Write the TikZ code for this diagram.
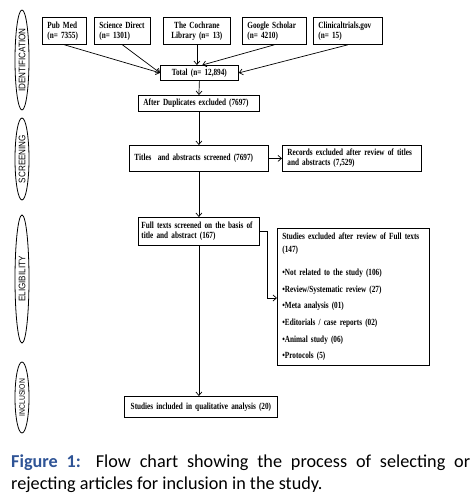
\documentclass[tikz,border=0pt]{standalone}
\usepackage{fontspec}
\setmainfont{Liberation Serif}
\newfontfamily\boxfont[FakeStretch=0.77]{Liberation Serif}
\newfontfamily\stagefont[FakeStretch=0.85]{Liberation Sans}
\newfontfamily\capfont{Carlito}
\usetikzlibrary{shapes,arrows.meta,positioning}
\usepackage{xcolor}
\definecolor{figblue}{RGB}{47,84,150}

\tikzset{
  box/.style={draw, line width=0.8pt, rectangle, anchor=north west,
    inner xsep=5pt, inner ysep=2pt,
    font=\boxfont\fontsize{9.4}{10}\selectfont\bfseries},
  stage/.style={draw, ellipse, line width=0.8pt, inner sep=0pt, rotate=90,
    font=\stagefont\fontsize{9.5}{10}\selectfont},
  flow/.style={-{Straight Barb[length=3.5pt,width=6pt]}, line width=0.7pt}
}

\begin{document}
\begin{tikzpicture}[x=1pt,y=-1pt]
  \useasboundingbox (0,0) rectangle (473,497);

  % stages on the left
  \def\stageX{22}
  \node[stage, minimum width=100, minimum height=14] (ident) at (\stageX,60) {IDENTIFICATION};
  \node[stage, minimum width=82, minimum height=14] (screen) at (\stageX,159) {SCREENING};
  \node[stage, minimum width=128, minimum height=14] (elig) at (\stageX,279) {ELIGIBILITY};
  \node[stage, minimum width=71, minimum height=14,
    font=\stagefont\fontsize{8}{9}\selectfont] (incl) at (\stageX,397.5) {INCLUSION};

  % sources
  \def\srcY{17}
  \node[box, text width=34, minimum height=27, align=left] (pubmed) at (42,\srcY) {Pub Med\\(n= 7355)};
  \node[box, text width=46, minimum height=27, align=left] (scidirect) at (94,\srcY) {Science Direct\\(n= 1301)};
  \node[box, text width=57, minimum height=27, align=center] (cochrane) at (163,\srcY) {The Cochrane\\Library (n= 13)};
  \node[box, text width=54, minimum height=27, align=left] (gscholar) at (242,\srcY) {Google Scholar\\(n= 4210)};
  \node[box, text width=59, minimum height=27, align=left] (ctrials) at (313,\srcY) {Clinicaltrials.gov\\(n= 15)};

  % main flow
  \node[box, text width=68, minimum height=15, align=center] (total) at (160,65) {Total (n= 12,894)};
  \node[box, text width=111, minimum height=16, align=left] (dups) at (138,95) {After Duplicates excluded (7697)};
  \node[box, text width=129, minimum height=26, align=left] (titles) at (129,145) {Titles~ and abstracts screened (7697)};
  \node[box, text width=129, minimum height=26, align=left] (records) at (282,145) {Records excluded after review of titles\\and abstracts (7,529)};
  \node[box, inner xsep=3pt, text width=115, minimum height=28, align=left] (fulltexts) at (138,217) {Full texts screened on the basis of\\title and abstract (167)};
  \node[box, text width=142, minimum height=137, align=left,
    font=\boxfont\fontsize{9.4}{16.7}\selectfont\bfseries] (excluded) at (277,228)
    {Studies excluded after review of Full texts\\[-3.7pt](147)\\[6pt]
     \textbullet Not related to the study (106)\\
     \textbullet Review/Systematic review (27)\\
     \textbullet Meta analysis (01)\\
     \textbullet Editorials / case reports (02)\\
     \textbullet Animal study (06)\\
     \textbullet Protocols (5)};
  \node[box, text width=143, minimum height=21, align=center] (included) at (124,396) {Studies included in qualitative analysis (20)};

  % connectors
  \draw[flow] (pubmed.south) -- (total.west);
  \draw[flow] (scidirect.south) -- (total.west);
  \draw[flow] (cochrane.south) -- (cochrane.south |- total.north);
  \draw[flow] (gscholar.south) -- ([xshift=3pt]total.north);
  \draw[flow] (ctrials.south) -- (total.east);
  \draw[flow] (total.south) -- (dups.north);
  \draw[flow] (dups.south) -- (titles.north);
  \draw[flow] (titles.east) -- (records.west);
  \draw[flow] (titles.south) -- (fulltexts.north);
  \draw[flow] ([yshift=-14pt]fulltexts.north east) -- ++(8,0) |- ([yshift=-70pt]excluded.north west);
  \draw[flow] (fulltexts.south) -- (fulltexts.south |- included.north);

  % caption
  \node[anchor=north west, text width=459pt, align=justify, inner sep=0pt,
    font=\capfont\fontsize{18.2}{22}\selectfont] (caption) at (11,455)
    {\noindent\textcolor{figblue}{\bfseries Figure 1:} Flow chart showing the process of selecting or\linebreak rejecting articles for inclusion in the study.};
\end{tikzpicture}
\end{document}
